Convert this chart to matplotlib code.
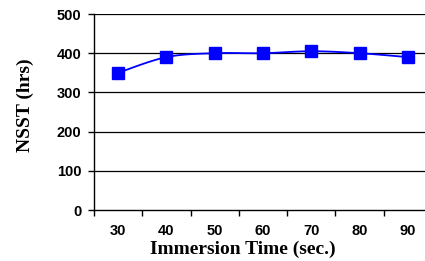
import numpy as np
import matplotlib
matplotlib.use("Agg")
import matplotlib.pyplot as plt

# Daten
times = ["30", "40", "50", "60", "70", "80", "90"]
nsst = [350, 390, 400, 400, 405, 400, 390]
yticks = [0, 100, 200, 300, 400, 500]


def smooth_curve(xs, ys, n=20):
    # Catmull-Rom Kurve durch die Punkte (wie Excel "geglättete Linie")
    xs = np.asarray(xs, float)
    ys = np.asarray(ys, float)
    px = np.concatenate([[xs[0]], xs, [xs[-1]]])
    py = np.concatenate([[ys[0]], ys, [ys[-1]]])
    out_x, out_y = [], []
    t = np.linspace(0, 1, n)
    h00 = 2 * t**3 - 3 * t**2 + 1
    h10 = t**3 - 2 * t**2 + t
    h01 = -2 * t**3 + 3 * t**2
    h11 = t**3 - t**2
    for i in range(1, len(px) - 2):
        for arr, res in ((px, out_x), (py, out_y)):
            p0, p1, p2, p3 = arr[i - 1], arr[i], arr[i + 1], arr[i + 2]
            m1 = (p2 - p0) / 2
            m2 = (p3 - p1) / 2
            res.extend(h00 * p1 + h10 * m1 + h01 * p2 + h11 * m2)
    return np.array(out_x), np.array(out_y)


fig = plt.figure(figsize=(4.25, 2.61), dpi=100)
W, H = 425, 261
left, right, top, bottom = 94, 432, 14, 210
ax = fig.add_axes([left / W, 1 - bottom / H, (right - left) / W, (bottom - top) / H])

x = np.arange(len(times))
sx, sy = smooth_curve(x, nsst)
ax.plot(sx, sy, color="#0000FF", linewidth=1.3, zorder=3)
ax.plot(x, nsst, linestyle="none", marker="s", markersize=8,
        color="#0000FF", zorder=4)

ax.set_xlim(-0.5, len(times) - 0.5)
ax.set_ylim(0, 500)
ax.set_yticks(yticks)
ax.set_yticklabels([str(v) for v in yticks])
ax.set_xticks(x)
ax.set_xticklabels(times)
ax.set_xticks(np.arange(len(times) + 1) - 0.5, minor=True)

for v in yticks[1:]:
    ax.axhline(v, color="black", linewidth=0.9, zorder=1)

for s in ("top", "right"):
    ax.spines[s].set_visible(False)
for s in ("left", "bottom"):
    ax.spines[s].set_linewidth(1.0)

ax.tick_params(axis="x", which="major", length=0, pad=10)
ax.tick_params(axis="x", which="minor", length=4, width=1.0, direction="out")
ax.tick_params(axis="y", length=4, width=1.0, direction="out", pad=5)
for lab in ax.get_xticklabels() + ax.get_yticklabels():
    lab.set_fontfamily("Liberation Sans")
    lab.set_fontweight("bold")
    lab.set_fontsize(10.5)

fig.text(243 / W, 1 - 249 / H, "Immersion Time (sec.)", ha="center", va="center",
         fontfamily="Liberation Serif", fontweight="bold", fontsize=14)
fig.text(25 / W, 1 - 105 / H, "NSST (hrs)", ha="center", va="center", rotation=90,
         fontfamily="Liberation Serif", fontweight="bold", fontsize=14)

fig.savefig("out.png", dpi=100)
